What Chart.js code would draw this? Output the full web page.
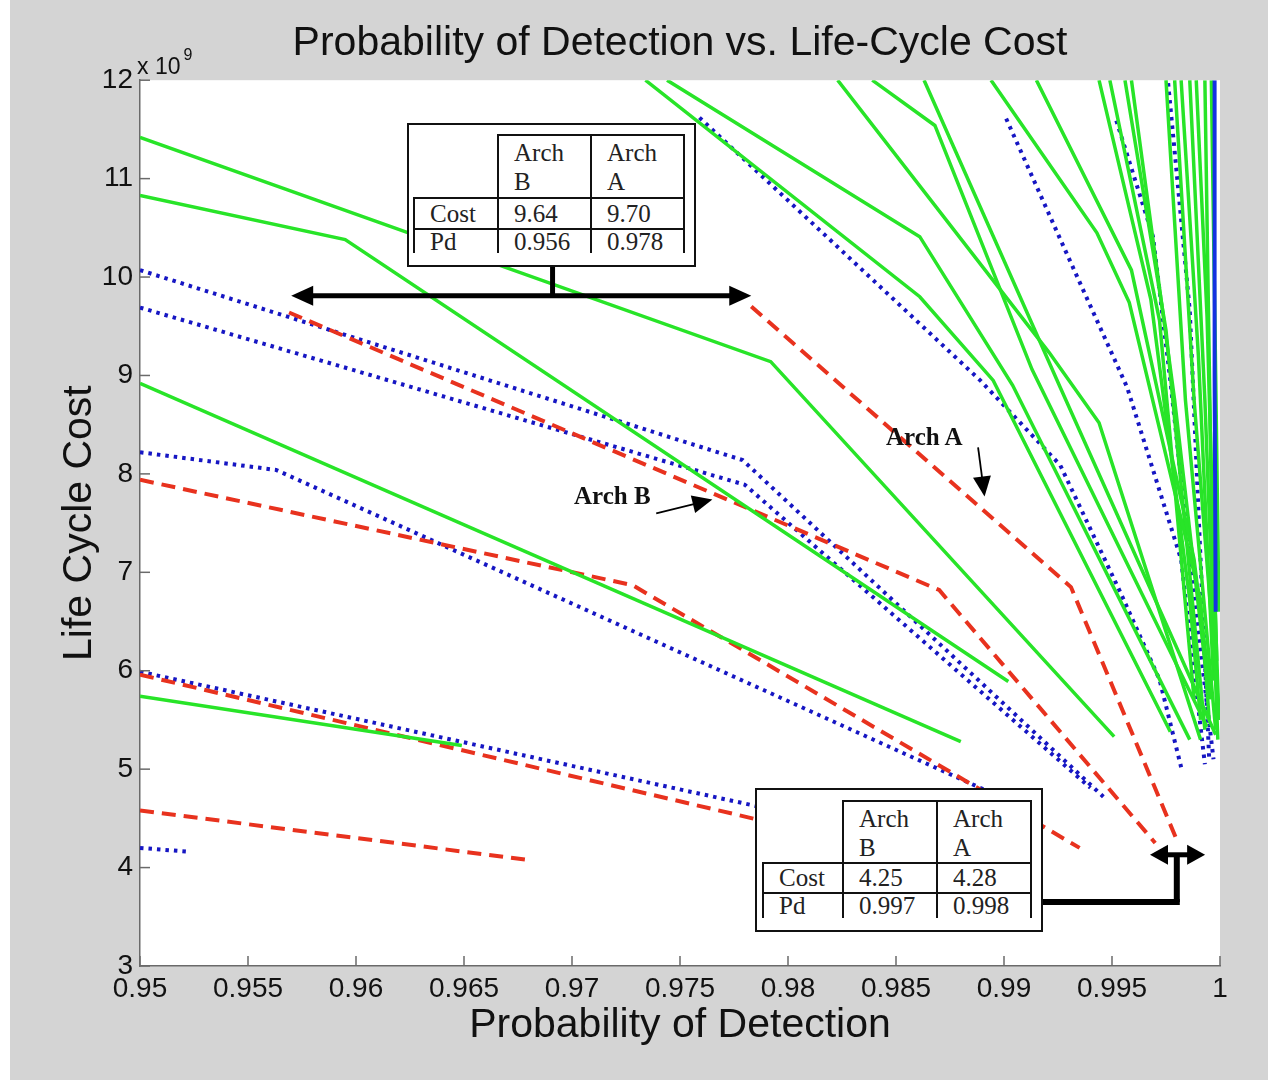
<!DOCTYPE html>
<html>
<head>
<meta charset="utf-8">
<title>Probability of Detection vs. Life-Cycle Cost</title>
<script src="https://cdn.jsdelivr.net/npm/chart.js@4.4.0/dist/chart.umd.min.js"></script>
<style>
  html, body { margin: 0; padding: 0; background: #fff; }
  #wrap { position: relative; width: 1268px; height: 1087px; overflow: hidden; }
  #plot { position: absolute; left: 0; top: 0; }
  .label { position: absolute; font-family: "Liberation Serif", "Times New Roman", serif; font-weight: bold; font-size: 25px; line-height: 25px; color: #111; white-space: nowrap; }
  .expo { position: absolute; font-family: "Liberation Sans", Arial, sans-serif; font-size: 23px; color: #111; white-space: nowrap; }
  .expo span { font-size: 16px; position: relative; top: -14px; margin-left: 3px; }
  .box { position: absolute; background: #fff; border: 2px solid #111; box-sizing: border-box; }
  .box table { position: absolute; border-collapse: collapse; table-layout: fixed;
    font-family: "Liberation Serif", "Times New Roman", serif; font-size: 25px; color: #222; }
  .box td { padding: 0 0 0 15px; border: 0 solid #111; vertical-align: middle; line-height: 22px; overflow: hidden; white-space: nowrap; }
  .box td.hd { vertical-align: top; line-height: 29px; padding-top: 2px; }
  .box td.t { border-top-width: 2px; }
  .box td.l { border-left-width: 2px; }
  .box td.r { border-right-width: 2px; }
</style>
</head>
<body>
<div id="wrap">
  <canvas id="plot" width="1268" height="1087"></canvas>

  <div class="expo" style="left:137px; top:53px;">x 10<span>9</span></div>

  <div class="box" style="left:407px; top:123px; width:289px; height:144px;">
    <table style="left:4px; top:9px;">
      <colgroup><col style="width:84px"><col style="width:93px"><col style="width:93px"></colgroup>
      <tr style="height:63px"><td></td><td class="hd t l">Arch<br>B</td><td class="hd t l r">Arch<br>A</td></tr>
      <tr style="height:31px"><td class="t l">Cost</td><td class="t l">9.64</td><td class="t l r">9.70</td></tr>
      <tr style="height:24px"><td class="t l">Pd</td><td class="t l">0.956</td><td class="t l r">0.978</td></tr>
    </table>
  </div>

  <div class="box" style="left:755px; top:788px; width:288px; height:144px;">
    <table style="left:5px; top:10px;">
      <colgroup><col style="width:80px"><col style="width:94px"><col style="width:94px"></colgroup>
      <tr style="height:62px"><td></td><td class="hd t l">Arch<br>B</td><td class="hd t l r">Arch<br>A</td></tr>
      <tr style="height:30px"><td class="t l">Cost</td><td class="t l">4.25</td><td class="t l r">4.28</td></tr>
      <tr style="height:25px"><td class="t l">Pd</td><td class="t l">0.997</td><td class="t l r">0.998</td></tr>
    </table>
  </div>

  <div class="label" style="left:886px; top:424px;">Arch A</div>
  <div class="label" style="left:574px; top:483px;">Arch B</div>
</div>

<script>
// axis ticks
var xTickValues = [0.95, 0.955, 0.96, 0.965, 0.97, 0.975, 0.98, 0.985, 0.99, 0.995, 1];
var xTickLabels = ['0.95', '0.955', '0.96', '0.965', '0.97', '0.975', '0.98', '0.985', '0.99', '0.995', '1'];
var yTickValues = [3, 4, 5, 6, 7, 8, 9, 10, 11, 12];

// curves: [Pd, cost (x 10^9)]
// green (solid)
var green1  = [[0.95, 11.42], [0.9792, 9.14], [0.9951, 5.33]];
var green2  = [[0.95, 10.83], [0.9595, 10.38], [0.9902, 5.89]];
var green3  = [[0.95, 8.92], [0.9880, 5.28]];
var green4  = [[0.95, 5.74], [0.9649, 5.24]];
var green5  = [[0.9734, 12.0], [0.9861, 9.80], [0.9895, 8.95], [0.9977, 5.38]];
var green6  = [[0.9744, 12.0], [0.9861, 10.41], [0.9904, 8.90], [0.9986, 5.30]];
var green7  = [[0.9823, 12.0], [0.9921, 9.23], [0.9944, 8.52], [0.9991, 5.30]];
var green8  = [[0.9839, 12.0], [0.9868, 11.54], [0.9913, 9.06], [0.9994, 5.43]];
var green9  = [[0.9863, 12.0], [0.9926, 8.88], [0.9998, 5.35]];
var green10 = [[0.9894, 12.0], [0.9943, 10.45], [0.9958, 9.74], [0.9991, 6.72], [0.9995, 5.50]];
var green11 = [[0.9915, 12.0], [0.9959, 10.07], [0.9988, 7.13], [0.9996, 5.71]];
var green12 = [[0.9944, 12.0], [0.9968, 9.77], [0.9986, 6.72], [0.9991, 5.50]];
var green13 = [[0.9949, 12.0], [0.9972, 9.56], [0.9988, 5.71]];
var green14 = [[0.9956, 12.0], [0.9975, 9.46], [0.9993, 5.40]];
var green15 = [[0.9959, 12.0], [0.9979, 8.75], [0.9995, 5.71]];
var green16 = [[0.9975, 12.0], [0.9984, 8.75], [0.9998, 5.40]];
var green17 = [[0.9979, 12.0], [0.9988, 8.75], [0.9999, 5.71]];
var green18 = [[0.9986, 12.0], [0.9993, 8.75], [0.9999, 5.30]];
var green19 = [[0.9993, 12.0], [0.9996, 7.74], [0.99995, 5.50]];
var green20 = [[0.9982, 12.0], [0.9990, 9.20], [0.9997, 5.90]];
var green21 = [[0.9989, 12.0], [0.9994, 9.60], [0.99985, 6.10]];
var green22 = [[0.9996, 12.0], [0.9998, 9.00], [0.99995, 6.60]];

// red (dashed)
var redArchB = [[0.9569, 9.64], [0.9870, 6.82], [0.9970, 4.25]];
var redArchA = [[0.9783, 9.70], [0.9931, 6.85], [0.9980, 4.28]];
var red3 = [[0.95, 7.94], [0.9728, 6.87], [0.9935, 4.20]];
var red4 = [[0.95, 5.96], [0.9801, 4.41]];
var red5 = [[0.95, 4.58], [0.9679, 4.08]];

// blue (dotted)
var blue1 = [[0.95, 10.07], [0.9779, 8.14], [0.9946, 4.72]];
var blue2 = [[0.95, 9.69], [0.9780, 7.89], [0.9940, 4.81]];
var blue3 = [[0.95, 8.22], [0.9563, 8.04], [0.9891, 4.79]];
var blue4 = [[0.95, 5.99], [0.9801, 4.55]];
var blue5 = [[0.95, 4.20], [0.9523, 4.16]];
var blue6 = [[0.9759, 11.62], [0.9889, 8.95], [0.9926, 8.09], [0.9954, 6.79], [0.9972, 5.91], [0.9982, 5.02]];
var blue7 = [[0.9901, 11.61], [0.9929, 10.24], [0.9957, 8.88], [0.9982, 7.13], [0.9993, 5.05]];
var blue8 = [[0.9952, 11.59], [0.9969, 10.41], [0.9977, 8.95], [0.9986, 7.13], [0.9997, 5.10]];
var blue9 = [[0.9976, 11.97], [0.9986, 9.66], [0.9995, 5.10]];
// solid blue run hugging Pd = 1
var blueSolid = [[0.99975, 12.0], [0.99975, 9.0], [0.9998, 6.6]];

var greenCurves = [green1, green2, green3, green4, green5, green6, green7, green8, green9, green10, green11,
                   green12, green13, green14, green15, green16, green17, green18, green19, green20, green21, green22];
var redCurves = [redArchB, redArchA, red3, red4, red5];
var blueCurves = [blue1, blue2, blue3, blue4, blue5, blue6, blue7, blue8, blue9];

// annotation arrows, in data units
var topSpan = { y: 9.81, from: 0.9570, to: 0.9783, stemX: 0.9691, stemTop: 10.11 };
var bottomSpan = { y: 4.13, from: 0.99676, to: 0.99931, stemX: 0.998, elbowY: 3.65, tableEdge: 0.99176 };
var archAPointer = { from: [0.9888, 8.27], to: [0.9891, 7.77] };
var archBPointer = { from: [0.9739, 7.60], to: [0.9765, 7.74] };

var GREEN = 'rgb(40,228,40)';
var RED = 'rgb(232,50,30)';
var BLUE = 'rgb(22,22,195)';
var FONT = '"Liberation Sans", Arial, Helvetica, sans-serif';

function makeSet(points, color, width, dash) {
    return {
        data: points,
        borderColor: color,
        borderWidth: width,
        borderDash: dash,
        pointRadius: 0,
        showLine: true,
        fill: false,
        tension: 0,
        clip: 0
    };
}

// first dataset is drawn on top
var datasets = [makeSet(blueSolid, 'rgb(20,50,225)', 4, [])];
greenCurves.forEach(function(p) { datasets.push(makeSet(p, GREEN, 3.5, [])); });
redCurves.forEach(function(p) { datasets.push(makeSet(p, RED, 4, [14, 8])); });
blueCurves.forEach(function(p) { datasets.push(makeSet(p, BLUE, 4, [3.5, 5])); });

function head(c, x1, y1, x2, y2, len, half) {
    var a = Math.atan2(y2 - y1, x2 - x1);
    var bx = x2 - len * Math.cos(a), by = y2 - len * Math.sin(a);
    c.beginPath();
    c.moveTo(x2, y2);
    c.lineTo(bx + half * Math.sin(a), by - half * Math.cos(a));
    c.lineTo(bx - half * Math.sin(a), by + half * Math.cos(a));
    c.closePath();
    c.fill();
}

function seg(c, x1, y1, x2, y2) {
    c.beginPath();
    c.moveTo(x1, y1);
    c.lineTo(x2, y2);
    c.stroke();
}

var decor = {
    id: 'decor',
    beforeDraw: function(chart) {
        var c = chart.ctx, a = chart.chartArea;
        c.save();
        c.fillStyle = '#fff';
        c.fillRect(0, 0, chart.width, chart.height);
        c.fillStyle = '#d4d4d4';
        c.fillRect(10, 0, chart.width - 10, 1080);
        c.fillStyle = '#fff';
        c.fillRect(a.left, a.top, a.right - a.left, a.bottom - a.top);
        c.restore();
    },
    afterDraw: function(chart) {
        var c = chart.ctx, a = chart.chartArea;
        var xs = chart.scales.x, ys = chart.scales.y;
        function px(v) { return xs.getPixelForValue(v); }
        function py(v) { return ys.getPixelForValue(v); }
        c.save();

        // inward tick marks, matlab style
        c.strokeStyle = '#6a6a6a';
        c.lineWidth = 1.5;
        xTickValues.forEach(function(v) { seg(c, px(v), a.bottom, px(v), a.bottom - 10); });
        yTickValues.forEach(function(v) { seg(c, a.left, py(v), a.left + 10, py(v)); });

        c.strokeStyle = '#000';
        c.fillStyle = '#000';
        c.lineCap = 'butt';

        // top table: stem + double arrow
        c.lineWidth = 5;
        seg(c, px(topSpan.stemX), py(topSpan.stemTop), px(topSpan.stemX), py(topSpan.y));
        seg(c, px(topSpan.from) + 15, py(topSpan.y), px(topSpan.to) - 15, py(topSpan.y));
        head(c, px(topSpan.to), py(topSpan.y), px(topSpan.from), py(topSpan.y), 22, 10);
        head(c, px(topSpan.from), py(topSpan.y), px(topSpan.to), py(topSpan.y), 22, 10);

        // bottom table: elbow connector + double arrow
        c.lineWidth = 6;
        seg(c, px(bottomSpan.tableEdge), py(bottomSpan.elbowY), px(bottomSpan.stemX) + 3, py(bottomSpan.elbowY));
        seg(c, px(bottomSpan.stemX), py(bottomSpan.elbowY), px(bottomSpan.stemX), py(bottomSpan.y));
        c.lineWidth = 5;
        seg(c, px(bottomSpan.from) + 12, py(bottomSpan.y), px(bottomSpan.to) - 12, py(bottomSpan.y));
        head(c, px(bottomSpan.to), py(bottomSpan.y), px(bottomSpan.from), py(bottomSpan.y), 18, 10);
        head(c, px(bottomSpan.from), py(bottomSpan.y), px(bottomSpan.to), py(bottomSpan.y), 18, 10);

        // Arch A / Arch B pointers
        [archAPointer, archBPointer].forEach(function(p) {
            var x1 = px(p.from[0]), y1 = py(p.from[1]), x2 = px(p.to[0]), y2 = py(p.to[1]);
            var ang = Math.atan2(y2 - y1, x2 - x1);
            c.lineWidth = 1.8;
            seg(c, x1, y1, x2 - 16 * Math.cos(ang), y2 - 16 * Math.sin(ang));
            head(c, x1, y1, x2, y2, 20, 9);
        });

        c.restore();
    }
};

var ctx = document.getElementById('plot').getContext('2d');
var chart = new Chart(ctx, {
    type: 'scatter',
    data: { datasets: datasets },
    options: {
        responsive: false,
        animation: false,
        devicePixelRatio: 1,
        layout: { padding: { left: 0, right: 48, top: 0, bottom: 0 } },
        plugins: {
            legend: { display: false },
            tooltip: { enabled: false },
            title: {
                display: true,
                fullSize: false,
                text: 'Probability of Detection vs. Life-Cycle Cost',
                color: '#111',
                font: { family: FONT, size: 41, weight: 'normal' },
                padding: { top: 19, bottom: 12 }
            }
        },
        scales: {
            x: {
                type: 'linear',
                min: 0.95,
                max: 1,
                afterBuildTicks: function(scale) {
                    scale.ticks = xTickValues.map(function(v) { return { value: v }; });
                },
                afterFit: function(scale) { scale.height = 121; },
                grid: { display: false, drawTicks: false },
                border: { display: true, color: '#6a6a6a', width: 1.5 },
                ticks: {
                    autoSkip: false,
                    maxRotation: 0,
                    padding: 6,
                    color: '#111',
                    font: { family: FONT, size: 28 },
                    callback: function(v, i) { return xTickLabels[i]; }
                },
                title: {
                    display: true,
                    text: 'Probability of Detection',
                    color: '#111',
                    font: { family: FONT, size: 41 },
                    padding: { top: 0, bottom: 37 }
                }
            },
            y: {
                type: 'linear',
                min: 3,
                max: 12,
                afterBuildTicks: function(scale) {
                    scale.ticks = yTickValues.map(function(v) { return { value: v }; });
                },
                afterFit: function(scale) { scale.width = 140; },
                grid: { display: false, drawTicks: false },
                border: { display: true, color: '#6a6a6a', width: 1.5 },
                ticks: {
                    autoSkip: false,
                    padding: 7,
                    color: '#111',
                    font: { family: FONT, size: 28 }
                },
                title: {
                    display: true,
                    text: 'Life Cycle Cost',
                    color: '#111',
                    font: { family: FONT, size: 41 },
                    padding: { top: 55, bottom: 0 }
                }
            }
        }
    },
    plugins: [decor]
});
</script>
</body>
</html>
